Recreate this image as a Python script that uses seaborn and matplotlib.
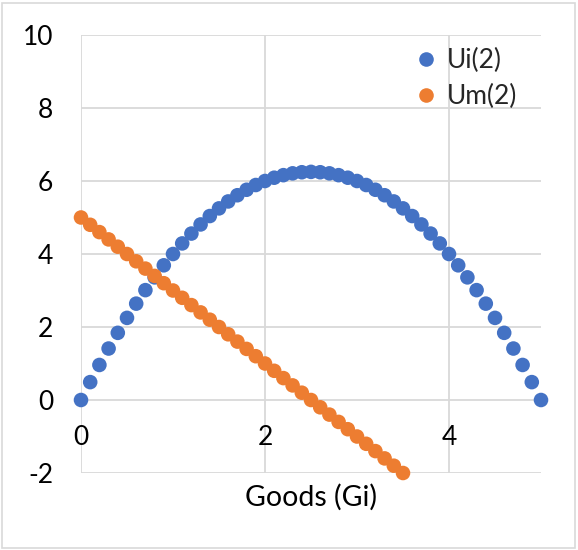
import matplotlib
matplotlib.use("Agg")
import matplotlib.pyplot as plt
import seaborn as sns
import pandas as pd
from matplotlib.patches import Rectangle

# Goods quantity and the two utility series
goods_ui = [0.0, 0.1, 0.2, 0.3, 0.4, 0.5, 0.6, 0.7, 0.8, 0.9,
            1.0, 1.1, 1.2, 1.3, 1.4, 1.5, 1.6, 1.7, 1.8, 1.9,
            2.0, 2.1, 2.2, 2.3, 2.4, 2.5, 2.6, 2.7, 2.8, 2.9,
            3.0, 3.1, 3.2, 3.3, 3.4, 3.5, 3.6, 3.7, 3.8, 3.9,
            4.0, 4.1, 4.2, 4.3, 4.4, 4.5, 4.6, 4.7, 4.8, 4.9, 5.0]
ui_values = [0.0, 0.49, 0.96, 1.41, 1.84, 2.25, 2.64, 3.01, 3.36, 3.69,
             4.0, 4.29, 4.56, 4.81, 5.04, 5.25, 5.44, 5.61, 5.76, 5.89,
             6.0, 6.09, 6.16, 6.21, 6.24, 6.25, 6.24, 6.21, 6.16, 6.09,
             6.0, 5.89, 5.76, 5.61, 5.44, 5.25, 5.04, 4.81, 4.56, 4.29,
             4.0, 3.69, 3.36, 3.01, 2.64, 2.25, 1.84, 1.41, 0.96, 0.49, 0.0]

goods_um = [0.0, 0.1, 0.2, 0.3, 0.4, 0.5, 0.6, 0.7, 0.8, 0.9,
            1.0, 1.1, 1.2, 1.3, 1.4, 1.5, 1.6, 1.7, 1.8, 1.9,
            2.0, 2.1, 2.2, 2.3, 2.4, 2.5, 2.6, 2.7, 2.8, 2.9,
            3.0, 3.1, 3.2, 3.3, 3.4, 3.5]
um_values = [5.0, 4.8, 4.6, 4.4, 4.2, 4.0, 3.8, 3.6, 3.4, 3.2,
             3.0, 2.8, 2.6, 2.4, 2.2, 2.0, 1.8, 1.6, 1.4, 1.2,
             1.0, 0.8, 0.6, 0.4, 0.2, 0.0, -0.2, -0.4, -0.6, -0.8,
             -1.0, -1.2, -1.4, -1.6, -1.8, -2.0]

series_names = ["Ui(2)", "Um(2)"]
series_colors = ["#4472C4", "#ED7D31"]
x_ticks = [0, 2, 4]
y_ticks = [-2, 0, 2, 4, 6, 8, 10]
x_label = "Goods (Gi)"

df = pd.concat([
    pd.DataFrame({"G": goods_ui, "U": ui_values, "series": series_names[0]}),
    pd.DataFrame({"G": goods_um, "U": um_values, "series": series_names[1]}),
], ignore_index=True)

sns.set_theme(style="white")
plt.rcParams["font.family"] = ["Lato", "DejaVu Sans"]

fig = plt.figure(figsize=(5.78, 5.5), dpi=100)
ax = fig.add_axes([81 / 578, 1 - 473 / 550, 460 / 578, 438 / 550])

sns.scatterplot(data=df, x="G", y="U", hue="series",
                hue_order=series_names, palette=series_colors,
                s=110, linewidth=0, ax=ax, zorder=3, clip_on=False)

ax.set_xlim(0, 5)
ax.set_ylim(-2, 10)
ax.set_xticks(x_ticks)
ax.set_yticks(y_ticks)
ax.set_xticklabels([str(t) for t in x_ticks])
ax.set_yticklabels([str(t) for t in y_ticks])

for side in ["top", "right", "left"]:
    ax.spines[side].set_visible(False)
# x labels sit just under the zero line
ax.spines["bottom"].set_position(("data", 0))
ax.spines["bottom"].set_visible(False)

ax.grid(True, color="#D9D9D9", linewidth=1.3)
ax.set_axisbelow(True)
ax.tick_params(axis="x", length=0, pad=18, labelsize=19, colors="black")
ax.tick_params(axis="y", length=0, pad=20, labelsize=19, colors="black")

ax.set_ylabel("")
ax.set_xlabel("")
fig.text(311 / 578, 1 - 497 / 550, x_label, ha="center", va="center",
         fontsize=20.5, color="black")

ax.legend_.remove()
handles = [plt.Line2D([], [], marker="o", linestyle="", markersize=10.5,
                      markerfacecolor=c, markeredgewidth=0) for c in series_colors]
fig.legend(handles, series_names, loc="upper left",
           bbox_to_anchor=(397 / 578, 1 - 35 / 550), frameon=False,
           fontsize=19, handletextpad=0.2, handlelength=1.2,
           labelspacing=0.42, borderpad=0)

fig.patches.append(Rectangle((2 / 578, 2 / 550), 573 / 578, 545 / 550,
                             transform=fig.transFigure, fill=False,
                             edgecolor="#D9D9D9", linewidth=1.2))

fig.savefig("out.png", dpi=100)
